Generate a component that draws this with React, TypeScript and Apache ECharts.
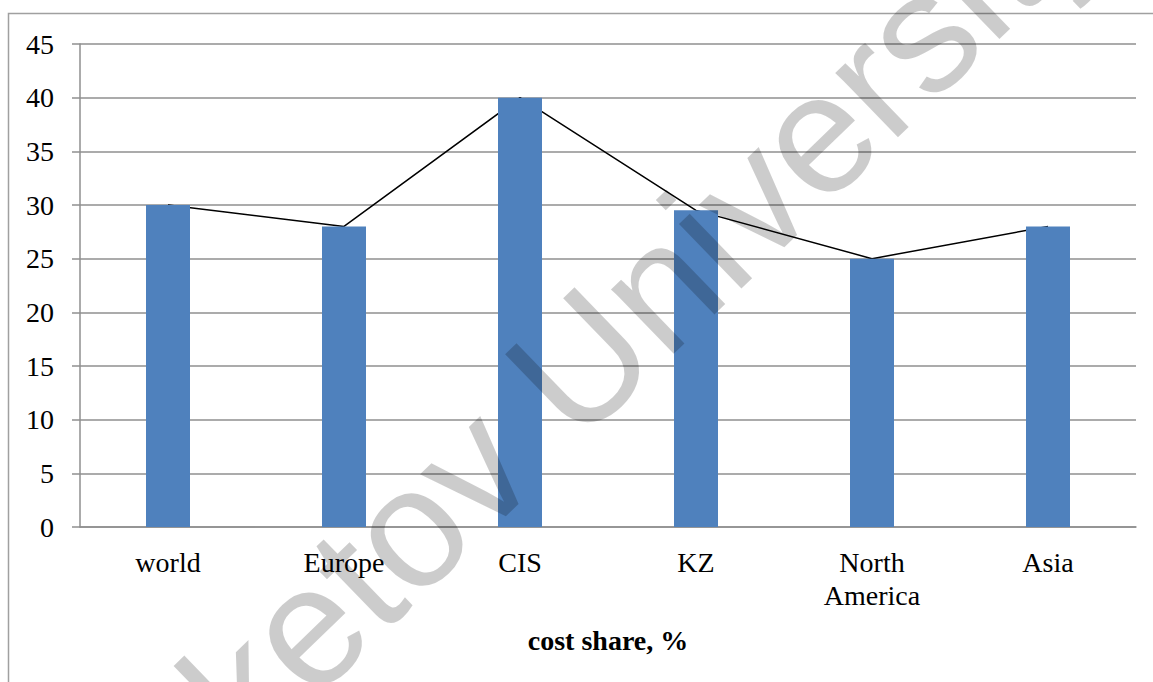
import React, { useEffect, useRef } from "react";
import * as echarts from "echarts";

const categories = ["world", "Europe", "CIS", "KZ", "North\nAmerica", "Asia"];
const barValues = [30, 28, 40, 29.5, 25, 28];
const lineValues = [30, 28, 40, 29.5, 25, 28];
const axisTitle = "cost share, %";
const watermarkLeft = "Buketov ";
const watermarkRight = "University";

export default function App() {
  const ref = useRef<HTMLDivElement>(null);
  useEffect(() => {
    if (!ref.current) return;
    const chart = echarts.init(ref.current, null, { renderer: "svg" });
    const rot = (44 * Math.PI) / 180;
    const wmX = 536;
    const wmY = 405;
    const wmStyle = {
      fill: "rgba(0,0,0,0.2)",
      font: "170px 'Liberation Sans', Arial, sans-serif",
      verticalAlign: "middle",
    };
    chart.setOption({
      animation: false,
      backgroundColor: "#ffffff",
      grid: { left: 80, right: 17, top: 44, bottom: 155, containLabel: false },
      xAxis: {
        type: "category",
        data: categories,
        name: axisTitle,
        nameLocation: "middle",
        nameGap: 99,
        nameTextStyle: {
          fontFamily: "'Liberation Serif', 'Times New Roman', serif",
          fontSize: 28,
          fontWeight: "bold",
          color: "#000",
        },
        axisLine: { show: true, lineStyle: { color: "#8f8f8f", width: 1.5 } },
        axisTick: { show: false },
        axisLabel: {
          margin: 19,
          fontFamily: "'Liberation Serif', 'Times New Roman', serif",
          fontSize: 28,
          lineHeight: 33,
          color: "#000",
          interval: 0,
        },
      },
      yAxis: {
        type: "value",
        min: 0,
        max: 45,
        interval: 5,
        axisLine: { show: true, lineStyle: { color: "#8f8f8f", width: 1.5 } },
        axisTick: { show: true, length: 8, lineStyle: { color: "#8f8f8f", width: 1.5 } },
        splitLine: { show: true, lineStyle: { color: "#8f8f8f", width: 1.5 } },
        axisLabel: {
          margin: 26,
          fontFamily: "'Liberation Serif', 'Times New Roman', serif",
          fontSize: 28,
          color: "#000",
        },
      },
      series: [
        {
          type: "line",
          data: lineValues,
          z: 1,
          symbol: "none",
          lineStyle: { color: "#000", width: 1.5 },
        },
        {
          type: "bar",
          data: barValues,
          z: 3,
          barWidth: 44,
          itemStyle: { color: "#4f81bd" },
        },
      ],
      graphic: [
        {
          type: "rect",
          z: 0,
          silent: true,
          shape: { x: 8.5, y: 13.5, width: 1160, height: 700 },
          style: { fill: "none", stroke: "#a0a0a0", lineWidth: 1.5 },
        },
        {
          type: "text",
          z: 100,
          silent: true,
          x: wmX,
          y: wmY,
          rotation: rot,
          style: { ...wmStyle, text: watermarkLeft, align: "right" },
        },
        {
          type: "text",
          z: 100,
          silent: true,
          x: wmX,
          y: wmY,
          rotation: rot,
          style: { ...wmStyle, text: watermarkRight, align: "left" },
        },
      ],
    });
    return () => chart.dispose();
  }, []);
  return (
    <div
      ref={ref}
      style={{ position: "absolute", left: 0, top: 0, width: 1153, height: 682 }}
    />
  );
}
